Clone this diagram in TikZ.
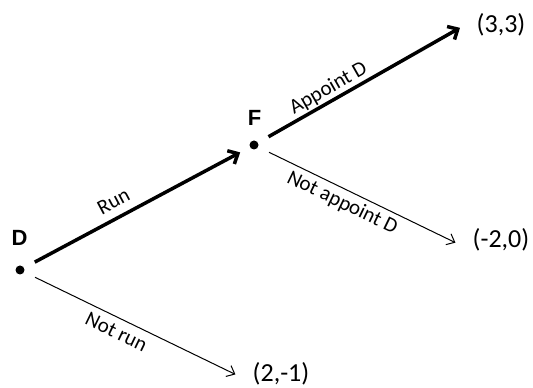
\documentclass[tikz,border=0pt]{standalone}
\usepackage{fontspec}
\setmainfont{Carlito}
\newfontfamily\dfont{Liberation Sans}
\usetikzlibrary{arrows.meta}
\begin{document}
\begin{tikzpicture}[x=1pt,y=1pt,
  dot/.style={circle,fill=black,inner sep=0pt,minimum size=9pt},
  player/.style={font=\dfont\bfseries\fontsize{22}{26}\selectfont,inner sep=0pt},
  payoff/.style={font=\fontsize{26}{30}\selectfont,inner sep=0pt},
  lab/.style={font=\fontsize{21}{25}\selectfont,sloped,inner sep=0pt},
  bold arrow/.style={line width=3.5pt,shorten <=12pt,-{Straight Barb[length=8pt,width=15pt]}},
  thin arrow/.style={line width=1pt,shorten <=12pt,-{Straight Barb[length=7pt,width=12pt]}},
]
\useasboundingbox (0,0) rectangle (533,388);
\node[dot] (D) at (20,118) {};
\node[dot] (F) at (254,243) {};
\node[player] (Dl) at (19.5,150) {D};
\node[player] (Fl) at (254.5,270) {F};
\node[payoff] (p33) at (501,363) {(3,3)};
\node[payoff] (m20) at (501,148) {(-2,0)};
\node[payoff] (p21) at (281,14) {(2,-1)};
\draw[bold arrow, shorten >=11pt] (D) -- node[lab,pos=0.43,above=8pt] {Run} (F);
\draw[bold arrow, shorten >=19pt] (F) -- node[lab,pos=0.35,above=1.5pt] {Appoint D} (p33.165);
\draw[thin arrow, shorten >=19pt] (F) -- node[lab,pos=0.42,below=4.5pt] {Not appoint D} (m20.201);
\draw[thin arrow, shorten >=19pt] (D) -- node[lab,pos=0.43,below=6.5pt] {Not run} (p21.197);
\end{tikzpicture}
\end{document}
